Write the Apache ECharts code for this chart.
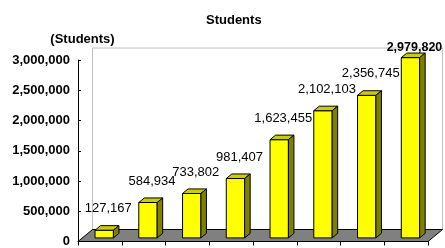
<!DOCTYPE html>
<html>
<head>
<meta charset="utf-8">
<script src="https://cdn.jsdelivr.net/npm/echarts@6/dist/echarts.min.js"></script>
<style>
  html, body { margin: 0; padding: 0; background: #fff; }
  #chart { width: 445px; height: 248px; }
</style>
</head>
<body>
<div id="chart"></div>
<script>
// categories are cut off below the picture, so only their count matters
var categories = ['1', '2', '3', '4', '5', '6', '7', '8']
var students = [127167, 584934, 733802, 981407, 1623455, 2102103, 2356745, 2979820]
var yTicks = { min: 0, max: 3000000, interval: 500000 }

var FONT = '"Liberation Sans", Arial, sans-serif'
// depth of the 3D box, in px
var DX = 14.5
var DY = 12
// bar sits between these depth fractions
var F0 = 0.3
var F1 = 0.68

function fmt(v) {
  return Number(v).toLocaleString('en-US')
}

function renderBox(params, api) {
  var cs = params.coordSys
  var bottom = cs.y + cs.height
  return {
    type: 'group',
    children: [
      {
        type: 'rect',
        shape: { x: cs.x + DX, y: cs.y - DY, width: cs.width, height: cs.height },
        style: { fill: '#fff', stroke: '#c0c0c0', lineWidth: 1 }
      },
      {
        type: 'polygon',
        shape: {
          points: [
            [cs.x, bottom],
            [cs.x + cs.width, bottom],
            [cs.x + cs.width + DX, bottom - DY],
            [cs.x + DX, bottom - DY]
          ]
        },
        style: { fill: '#808080', stroke: '#000', lineWidth: 1 }
      }
    ]
  }
}

function renderBar(params, api) {
  var idx = api.value(0)
  var v = api.value(1)
  var base = api.coord([idx, 0])
  var top = api.coord([idx, v])
  var band = api.size([1, 0])[0]
  var w = band * 0.42
  var cx = base[0] + DX * F0
  var x0 = cx - w / 2
  var x1 = cx + w / 2
  var yt = top[1] - DY * F0
  var yb = base[1] - DY * F0
  var ox = DX * (F1 - F0)
  var oy = DY * (F1 - F0)
  var last = params.dataIndex === students.length - 1
  var line = { stroke: '#000', lineWidth: 1 }
  return {
    type: 'group',
    children: [
      {
        type: 'rect',
        shape: { x: x0, y: yt, width: w, height: yb - yt },
        style: Object.assign({ fill: '#ffff00' }, line)
      },
      {
        type: 'polygon',
        shape: { points: [[x0, yt], [x1, yt], [x1 + ox, yt - oy], [x0 + ox, yt - oy]] },
        style: Object.assign({ fill: '#cccc00' }, line)
      },
      {
        type: 'polygon',
        shape: { points: [[x1, yt], [x1 + ox, yt - oy], [x1 + ox, yb - oy], [x1, yb]] },
        style: Object.assign({ fill: '#808000' }, line)
      },
      {
        type: 'text',
        style: {
          text: fmt(v),
          x: cx + 4,
          y: yt - oy - (last ? 6 : 17),
          align: 'center',
          verticalAlign: 'middle',
          fill: '#000',
          fontSize: last ? 12.5 : 13,
          fontWeight: last ? 'bold' : 'normal',
          fontFamily: FONT
        }
      }
    ]
  }
}

var chart = echarts.init(document.getElementById('chart'), null, { renderer: 'canvas' })
chart.setOption({
  animation: false,
  backgroundColor: '#fff',
  title: {
    text: 'Students',
    left: 206,
    top: 14,
    padding: 0,
    textStyle: { fontSize: 13, fontWeight: 'bold', color: '#000', fontFamily: FONT }
  },
  grid: { left: 78, right: 17, top: 60, bottom: 5, containLabel: false },
  xAxis: {
    type: 'category',
    data: categories,
    boundaryGap: true,
    axisLine: { show: true, lineStyle: { color: '#000', width: 1 } },
    axisTick: { show: true, inside: false, length: 4, lineStyle: { color: '#000' } },
    axisLabel: { show: false },
    splitLine: { show: false }
  },
  yAxis: {
    type: 'value',
    min: yTicks.min,
    max: yTicks.max,
    interval: yTicks.interval,
    name: '(Students)',
    nameLocation: 'end',
    nameGap: 14,
    nameTextStyle: {
      color: '#000', fontSize: 13, fontWeight: 'bold', fontFamily: FONT,
      padding: [0, 0, 0, 9]
    },
    axisLine: { show: true, lineStyle: { color: '#000', width: 1 } },
    axisTick: { show: true, inside: true, length: 3, lineStyle: { color: '#000' } },
    axisLabel: {
      margin: 8,
      color: '#000',
      fontSize: 13,
      fontWeight: 'bold',
      fontFamily: FONT,
      formatter: fmt
    },
    splitLine: { show: false }
  },
  series: [
    {
      type: 'custom',
      renderItem: renderBox,
      data: [[0, 0]],
      silent: true,
      z: 1
    },
    {
      type: 'custom',
      renderItem: renderBar,
      data: students.map(function(v, i) { return [i, v] }),
      z: 3
    }
  ]
})
</script>
</body>
</html>
